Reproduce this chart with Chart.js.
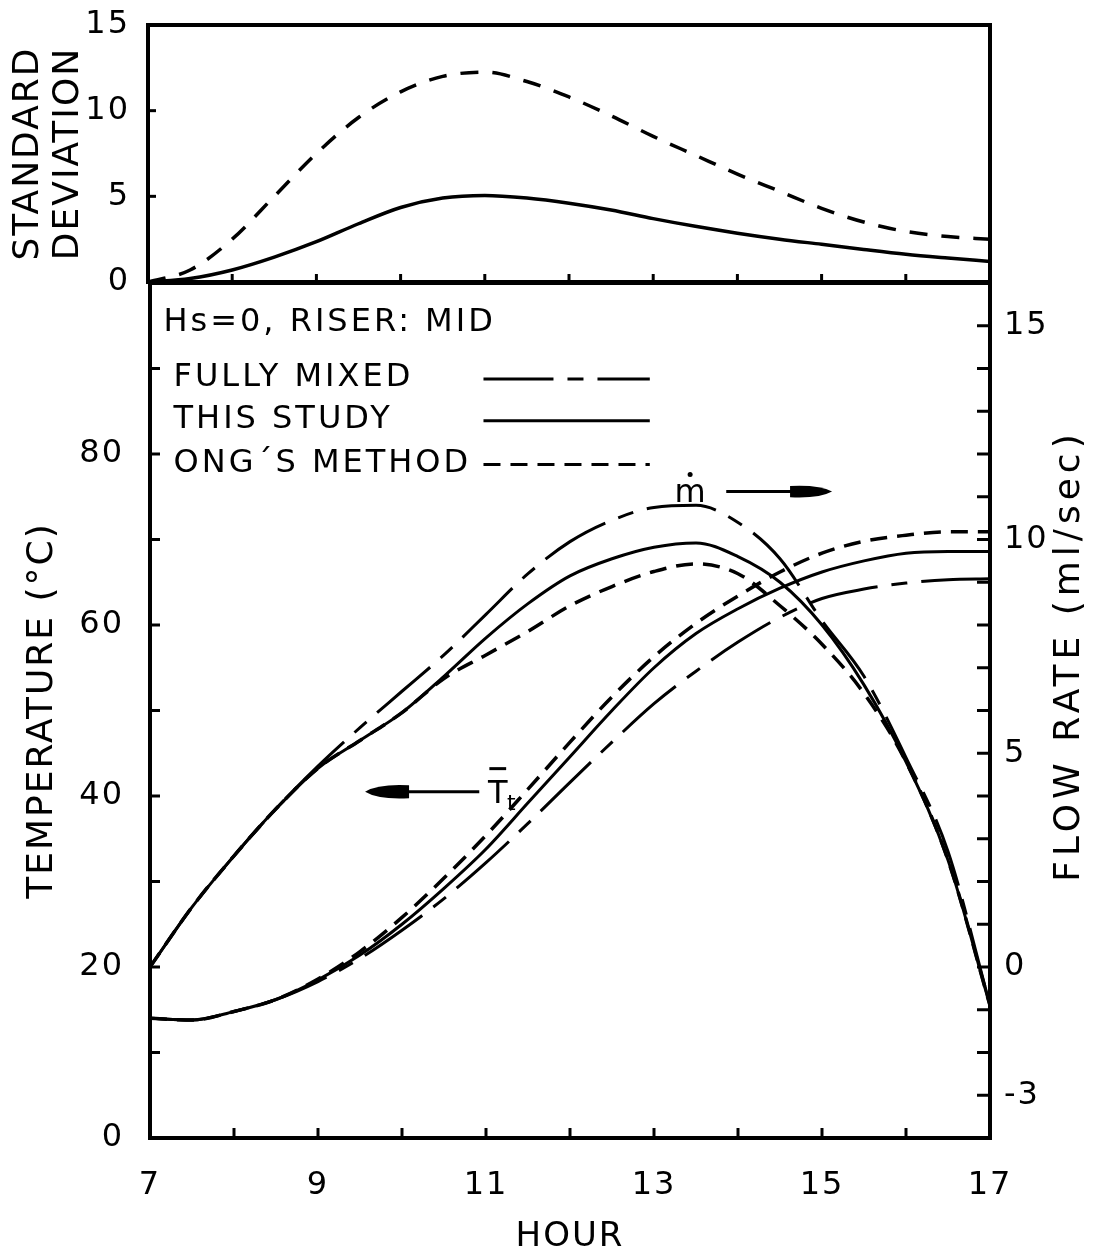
<!DOCTYPE html>
<html>
<head>
<meta charset="utf-8">
<script src="https://cdn.jsdelivr.net/npm/chart.js@4.4.1/dist/chart.umd.min.js"></script>
<style>
  html, body { margin: 0; padding: 0; background: #fff; }
  #wrap { position: relative; width: 1097px; height: 1259px; }
  canvas { position: absolute; left: 0; top: 0; }
</style>
</head>
<body>
<div id="wrap">
  <canvas id="chart-main" width="1097" height="1259"></canvas>
  <canvas id="chart-sd" width="1097" height="305"></canvas>
</div>
<script>
// ---- data (hour of day) ----
const hours = [7, 7.5, 8, 8.5, 9, 9.5, 10, 10.5, 11, 11.5, 12, 12.5, 13, 13.5, 14, 14.5, 15, 15.5, 16, 16.5, 17];

// upper panel: standard deviation
const sdSolid  = [0, 0.2, 0.7, 1.45, 2.35, 3.4, 4.35, 4.9, 5.05, 4.9, 4.6, 4.2, 3.7, 3.25, 2.85, 2.5, 2.2, 1.9, 1.62, 1.4, 1.2];
const sdDashed = [0, 0.7, 2.5, 5.0, 7.5, 9.6, 11.1, 12.0, 12.25, 11.7, 10.8, 9.7, 8.5, 7.4, 6.3, 5.3, 4.3, 3.5, 2.95, 2.65, 2.5];

// lower panel: flow rate m (ml/sec, right axis)
const flowFullyMixed = [0, 1.4, 2.6, 3.7, 4.7, 5.6, 6.45, 7.3, 8.25, 9.2, 9.95, 10.45, 10.75, 10.8, 10.4, 9.55, 8.1, 6.8, 4.9, 2.7, -0.9];
const flowThisStudy  = [0, 1.4, 2.6, 3.7, 4.65, 5.3, 5.95, 6.8, 7.7, 8.5, 9.15, 9.55, 9.82, 9.92, 9.6, 9.0, 8.0, 6.6, 4.8, 2.5, -0.9];
const flowOng        = [0, 1.4, 2.6, 3.7, 4.65, 5.3, 5.95, 6.75, 7.3, 7.85, 8.45, 8.9, 9.25, 9.43, 9.2, 8.45, 7.55, 6.4, 4.8, 2.5, -0.9];

// lower panel: mean tank temperature Tt (deg C, left axis)
const tempFullyMixed = [14, 13.8, 14.8, 16.2, 18.3, 21.0, 24.3, 28.0, 32.2, 36.8, 41.6, 46.3, 50.8, 54.6, 58.0, 60.9, 63.1, 64.2, 64.9, 65.3, 65.4];
const tempThisStudy  = [14, 13.8, 14.8, 16.2, 18.5, 21.4, 25.0, 29.2, 33.8, 39.2, 44.6, 50.0, 55.0, 59.0, 61.9, 64.3, 66.2, 67.5, 68.4, 68.6, 68.6];
const tempOng        = [14, 13.8, 14.8, 16.2, 18.6, 21.8, 25.8, 30.4, 35.4, 40.8, 46.3, 51.6, 56.3, 60.2, 63.4, 66.2, 68.4, 69.8, 70.5, 70.9, 70.9];

// tick labels
const hourTicks = [7, 9, 11, 13, 15, 17];
const sdTicks = [0, 5, 10, 15];
const tempTicks = [0, 20, 40, 60, 80];
const flowTicks = [-3, 0, 5, 10, 15];

const legendLabels = ["FULLY MIXED", "THIS STUDY", "ONG\u00B4S METHOD"];

// ---- styling ----
const INK = "#000";
const FAMILY = "'DejaVu Sans', sans-serif";
const DASH_MIXED = [70, 14, 16, 14];
const DASH_ONG = [17, 10];
const DASH_SD = [18, 14];

const pts = (ys) => hours.map((h, i) => ({ x: h, y: ys[i] }));

const line = (data, dash, yAxisID, width) => ({
  data: pts(data),
  yAxisID,
  borderColor: INK,
  borderWidth: width || 3,
  borderDash: dash,
  pointRadius: 0,
  cubicInterpolationMode: "monotone",
  fill: false,
});

// the lettering of the figure is quite open
const spacing = {
  id: "spacing",
  beforeDraw(chart) { chart.ctx.letterSpacing = "2px"; },
};

// inward tick marks + frame round the plot area
const frameTicks = {
  id: "frameTicks",
  afterDraw(chart, args, opts) {
    const { ctx, chartArea: a } = chart;
    ctx.save();
    ctx.strokeStyle = INK;
    ctx.lineWidth = 3;
    ctx.setLineDash([]);
    (opts.marks || []).forEach((m) => {
      const s = chart.scales[m.scale];
      for (let v = m.from; v <= m.to + 1e-9; v += m.step) {
        const p = s.getPixelForValue(v);
        ctx.beginPath();
        if (m.side === "bottom") { ctx.moveTo(p, a.bottom); ctx.lineTo(p, a.bottom - m.len); }
        if (m.side === "left") { ctx.moveTo(a.left, p); ctx.lineTo(a.left + m.len, p); }
        if (m.side === "right") { ctx.moveTo(a.right, p); ctx.lineTo(a.right - m.len, p); }
        ctx.stroke();
      }
    });
    ctx.lineWidth = opts.frameWidth || 4;
    ctx.strokeRect(a.left, a.top, a.right - a.left, a.bottom - a.top);
    ctx.restore();
  },
};

function arrowHead(ctx, tipX, y, dir, len, half) {
  // elongated filled head, dir = +1 points right, -1 points left
  ctx.beginPath();
  ctx.moveTo(tipX, y);
  ctx.quadraticCurveTo(tipX - dir * len * 0.3, y - half, tipX - dir * len, y - half * 0.8);
  ctx.lineTo(tipX - dir * len, y + half * 0.8);
  ctx.quadraticCurveTo(tipX - dir * len * 0.3, y + half, tipX, y);
  ctx.fill();
}

// in-plot lettering: header, legend, curve labels, right axis title
const annotations = {
  id: "annotations",
  afterDraw(chart) {
    const { ctx, chartArea: a } = chart;
    const xs = chart.scales.x, ys = chart.scales.yTemp;
    const X = (h) => xs.getPixelForValue(h);
    const Y = (t) => ys.getPixelForValue(t);
    const ds = chart.data.datasets;

    ctx.save();
    ctx.fillStyle = INK;
    ctx.strokeStyle = INK;
    ctx.textBaseline = "middle";

    ctx.font = `32px ${FAMILY}`;
    ctx.letterSpacing = "3px";
    ctx.textAlign = "left";
    ctx.fillText("Hs=0, RISER: MID", X(7.16), Y(95.4));

    // legend rows
    const rows = [
      { label: legendLabels[0], ds: ds[0], t: 88.9 },
      { label: legendLabels[1], ds: ds[1], t: 84.0 },
      { label: legendLabels[2], ds: ds[2], t: 78.9 },
    ];
    ctx.font = `32px ${FAMILY}`;
    ctx.letterSpacing = "3px";
    rows.forEach((r) => {
      ctx.fillText(r.label, X(7.28), Y(r.t));
      ctx.beginPath();
      ctx.lineWidth = 3;
      ctx.setLineDash(r.ds.borderDash || []);
      ctx.moveTo(X(10.97), Y(r.t) + 1);
      ctx.lineTo(X(12.95), Y(r.t) + 1);
      ctx.stroke();
    });
    ctx.setLineDash([]);

    // m-dot label and arrow to the right axis
    ctx.font = `32px ${FAMILY}`;
    ctx.letterSpacing = "0px";
    ctx.textAlign = "center";
    ctx.fillText("m", X(13.43), Y(75.4));
    ctx.beginPath();
    ctx.arc(X(13.43), Y(77.6), 2.5, 0, Math.PI * 2);
    ctx.fill();
    ctx.lineWidth = 3;
    ctx.beginPath();
    ctx.moveTo(X(13.86), Y(75.6));
    ctx.lineTo(X(14.65), Y(75.6));
    ctx.stroke();
    arrowHead(ctx, X(15.12), Y(75.6), 1, 42, 7);

    // T-bar t label and arrow to the left axis
    ctx.font = `32px ${FAMILY}`;
    ctx.fillText("T", X(11.14), Y(40.2));
    ctx.lineWidth = 3;
    ctx.beginPath();
    ctx.moveTo(X(11.04), Y(43.2));
    ctx.lineTo(X(11.24), Y(43.2));
    ctx.stroke();
    ctx.font = `22px ${FAMILY}`;
    ctx.fillText("t", X(11.3), Y(39.0));
    ctx.beginPath();
    ctx.moveTo(X(10.92), Y(40.5));
    ctx.lineTo(X(10.0), Y(40.5));
    ctx.stroke();
    arrowHead(ctx, X(9.56), Y(40.5), -1, 44, 8);

    // right axis title, reading upwards like the left one
    ctx.translate(a.right + 80, (a.top + a.bottom) / 2 - 55);
    ctx.rotate(-Math.PI / 2);
    ctx.font = `36px ${FAMILY}`;
    ctx.letterSpacing = "5px";
    ctx.fillText("FLOW RATE (ml/sec)", 0, 0);
    ctx.restore();
  },
};

const tickFont = { family: FAMILY, size: 32 };
const sdTickFont = { family: FAMILY, size: 32, lineHeight: 0.8 };
const titleFont = { family: FAMILY, size: 36, lineHeight: 1.1 };

// ---- upper panel ----
new Chart(document.getElementById("chart-sd"), {
  type: "line",
  data: {
    datasets: [
      line(sdDashed, DASH_SD, "y", 3.5),
      line(sdSolid, [], "y", 3.5),
    ],
  },
  options: {
    responsive: false,
    animation: false,
    layout: { padding: { top: 25, right: 107, bottom: 23, left: 0 } },
    plugins: {
      legend: { display: false },
      tooltip: { enabled: false },
      frameTicks: {
        frameWidth: 4,
        marks: [
          { scale: "x", side: "bottom", from: 8, to: 16, step: 1, len: 8 },
          { scale: "y", side: "left", from: 5, to: 10, step: 5, len: 8 },
        ],
      },
    },
    scales: {
      x: { type: "linear", display: false, min: 7, max: 17 },
      y: {
        min: 0,
        max: 15,
        afterFit: (s) => { s.width = 148; },
        afterBuildTicks: (s) => { s.ticks = sdTicks.map((v) => ({ value: v })); },
        grid: { display: false },
        border: { display: false },
        ticks: { color: INK, padding: 10, font: sdTickFont },
        title: {
          display: true,
          text: ["STANDARD", "DEVIATION"],
          color: INK,
          font: titleFont,
          padding: { top: 9 },
        },
      },
    },
  },
  plugins: [spacing, frameTicks],
});

// ---- lower panel ----
new Chart(document.getElementById("chart-main"), {
  type: "line",
  data: {
    datasets: [
      line(flowFullyMixed, DASH_MIXED, "yFlow"),
      line(flowThisStudy, [], "yFlow"),
      line(flowOng, DASH_ONG, "yFlow", 3.5),
      line(tempFullyMixed, DASH_MIXED, "yTemp"),
      line(tempThisStudy, [], "yTemp"),
      line(tempOng, DASH_ONG, "yTemp", 3.5),
    ],
  },
  options: {
    responsive: false,
    animation: false,
    layout: { padding: { top: 283, right: 0, bottom: 0, left: 0 } },
    plugins: {
      legend: { display: false },
      tooltip: { enabled: false },
      frameTicks: {
        frameWidth: 4,
        marks: [
          { scale: "x", side: "bottom", from: 8, to: 16, step: 1, len: 10 },
          { scale: "yTemp", side: "left", from: 10, to: 90, step: 10, len: 10 },
          { scale: "yFlow", side: "right", from: -3, to: 15, step: 1, len: 13 },
        ],
      },
    },
    scales: {
      x: {
        type: "linear",
        min: 7,
        max: 17,
        afterFit: (s) => { s.height = 121; },
        afterBuildTicks: (s) => { s.ticks = hourTicks.map((v) => ({ value: v })); },
        grid: { display: false },
        border: { display: false },
        ticks: { color: INK, padding: 20, font: tickFont, autoSkip: false, maxRotation: 0 },
        title: { display: true, text: "HOUR", color: INK, font: { family: FAMILY, size: 34 }, padding: { top: 0, bottom: 1 } },
      },
      yTemp: {
        position: "left",
        min: 0,
        max: 100,
        afterFit: (s) => { s.width = 150; },
        afterBuildTicks: (s) => { s.ticks = tempTicks.map((v) => ({ value: v })); },
        grid: { display: false },
        border: { display: false },
        ticks: { color: INK, padding: 18, font: tickFont },
        title: { display: true, text: "TEMPERATURE (\u00B0C)", color: INK, font: titleFont, padding: { top: 23 } },
      },
      yFlow: {
        position: "right",
        min: -4,
        max: 16,
        afterFit: (s) => { s.width = 107; },
        afterBuildTicks: (s) => { s.ticks = flowTicks.map((v) => ({ value: v })); },
        grid: { display: false },
        border: { display: false },
        ticks: { color: INK, padding: 6, font: tickFont },
      },
    },
  },
  plugins: [spacing, frameTicks, annotations],
});
</script>
</body>
</html>
